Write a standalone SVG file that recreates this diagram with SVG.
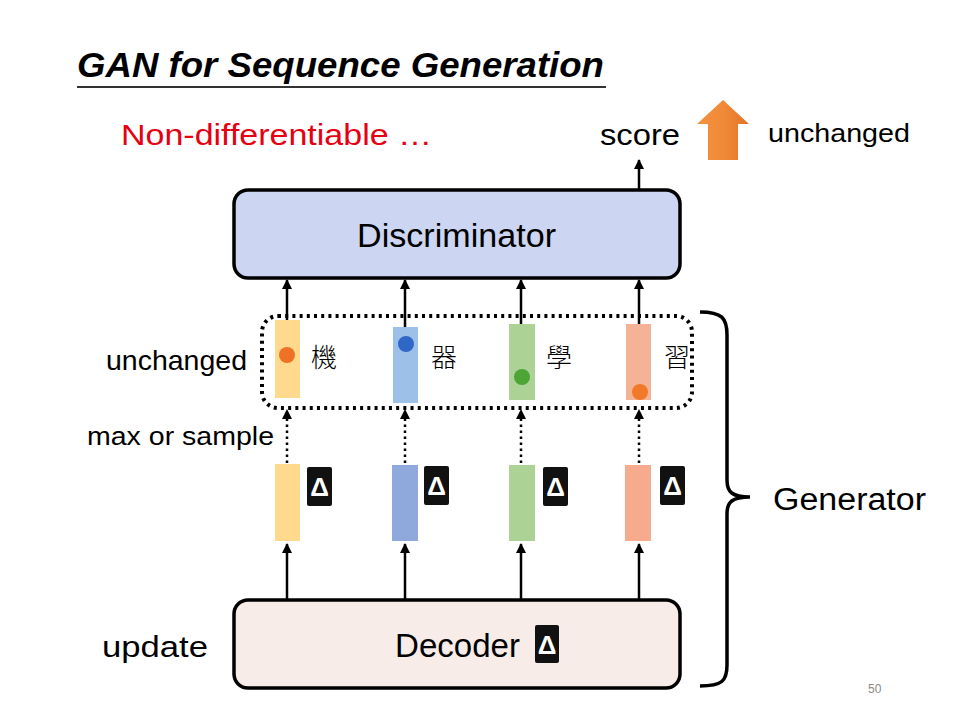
<svg xmlns="http://www.w3.org/2000/svg" width="960" height="720" viewBox="0 0 960 720">
<defs>
<style>
.t{font-family:"Liberation Sans","Noto Sans",sans-serif;fill:#000}
.cjk{font-family:"Noto Sans CJK TC","Noto Sans CJK SC",sans-serif;font-size:26px;font-weight:300;fill:#000}
.box{stroke:#000;stroke-width:3.5}
.arr{stroke:#000;stroke-width:2.5;fill:none;marker-end:url(#ah)}
.darr{stroke:#000;stroke-width:2.5;fill:none;stroke-dasharray:2.5 3.5;marker-end:url(#ah)}
.delta{fill:#111}
.dt{font-family:"Liberation Sans","DejaVu Sans",sans-serif;font-size:26px;font-weight:bold;fill:#fff;text-anchor:middle}
</style>
<marker id="ah" viewBox="0 0 10 10" refX="9" refY="5" markerWidth="4" markerHeight="4" orient="auto" markerUnits="strokeWidth">
<path d="M0,0 L10,5 L0,10 z" fill="#000"/>
</marker>
<linearGradient id="orng" x1="0" y1="0" x2="1" y2="0">
<stop offset="0" stop-color="#F6913F"/><stop offset="0.5" stop-color="#F08A38"/><stop offset="1" stop-color="#E27328"/>
</linearGradient>
</defs>
<rect width="960" height="720" fill="#fff"/>

<g id="title">
<text class="t" x="77" y="77" font-size="35" font-weight="bold" font-style="italic" textLength="527" lengthAdjust="spacingAndGlyphs">GAN for Sequence Generation</text>
<line x1="77" y1="87" x2="606" y2="87" stroke="#333" stroke-width="2"/>
</g>

<g id="nondiff"><text class="t" x="121" y="145" font-size="29" style="fill:#E60012" textLength="311" lengthAdjust="spacingAndGlyphs">Non-differentiable …</text></g>

<g id="score"><text class="t" x="600" y="145" font-size="30" textLength="80" lengthAdjust="spacingAndGlyphs">score</text></g>

<g id="up-arrow"><path d="M723,100 L749,124 L738,124 L738,160 L708,160 L708,124 L697,124 Z" fill="url(#orng)"/></g>
<g id="unchanged-top"><text class="t" x="768" y="142" font-size="26" textLength="142" lengthAdjust="spacingAndGlyphs">unchanged</text></g>

<g id="discriminator">
<rect class="box" x="234" y="190" width="446" height="88" rx="14" fill="#CCD6F2"/>
<text class="t" x="357" y="247" font-size="33" textLength="199" lengthAdjust="spacingAndGlyphs">Discriminator</text>
</g>

<g id="output-set">
<rect x="262" y="316" width="430" height="92" rx="16" fill="none" stroke="#000" stroke-width="4" stroke-dasharray="3 4.2"/>
</g>

<g id="tok1">
<rect x="275" y="320" width="25" height="78" fill="#FFD98E"/>
<circle cx="287" cy="355" r="8" fill="#EE7126"/>
<text class="cjk" x="311" y="367">機</text>
</g>
<g id="tok2">
<rect x="393" y="327" width="25" height="76" fill="#9DC0E8"/>
<circle cx="406" cy="344" r="8" fill="#2F67C9"/>
<text class="cjk" x="431" y="367">器</text>
</g>
<g id="tok3">
<rect x="509" y="324" width="26" height="76" fill="#ACD395"/>
<circle cx="522" cy="377" r="8" fill="#4CA535"/>
<text class="cjk" x="546" y="367">學</text>
</g>
<g id="tok4">
<rect x="626" y="324" width="25" height="76" fill="#F5B396"/>
<circle cx="640" cy="392" r="8" fill="#F07A2A"/>
<text class="cjk" x="664" y="367">習</text>
</g>

<g id="unchanged-left"><text class="t" x="106" y="370" font-size="28" textLength="141" lengthAdjust="spacingAndGlyphs">unchanged</text></g>
<g id="maxsample"><text class="t" x="87" y="445" font-size="26" textLength="187" lengthAdjust="spacingAndGlyphs">max or sample</text></g>

<g id="dist1"><rect x="275" y="464" width="25" height="77" fill="#FFD98E"/><rect class="delta" x="307" y="467" width="25" height="39" rx="2"/><text class="dt" x="319.5" y="496">Δ</text></g>
<g id="dist2"><rect x="392" y="465" width="26" height="76" fill="#8FA9DC"/><rect class="delta" x="424" y="466" width="25" height="39" rx="2"/><text class="dt" x="436.5" y="495">Δ</text></g>
<g id="dist3"><rect x="509" y="465" width="26" height="76" fill="#ACD395"/><rect class="delta" x="543" y="467" width="25" height="39" rx="2"/><text class="dt" x="555.5" y="496">Δ</text></g>
<g id="dist4"><rect x="625" y="465" width="26" height="76" fill="#F5AB8C"/><rect class="delta" x="660" y="466" width="25" height="39" rx="2"/><text class="dt" x="672.5" y="495">Δ</text></g>

<g id="decoder">
<rect class="box" x="234" y="600" width="446" height="88" rx="14" fill="#F7ECE8"/>
<text class="t" x="395" y="657" font-size="33" textLength="125" lengthAdjust="spacingAndGlyphs">Decoder</text>
<rect class="delta" x="535" y="625" width="24" height="38" rx="2"/>
<text class="dt" x="547" y="654">Δ</text>
</g>

<g id="update"><text class="t" x="102" y="657" font-size="30" textLength="106" lengthAdjust="spacingAndGlyphs">update</text></g>

<g id="generator">
<path d="M700,312 C722,312 727,318 727,335 L727,480 C727,492 732,497 750,497 C732,497 727,502 727,514 L727,665 C727,681 722,686 700,686" fill="none" stroke="#000" stroke-width="3.5"/>
<text class="t" x="773" y="510" font-size="31" textLength="153" lengthAdjust="spacingAndGlyphs">Generator</text>
</g>

<g id="page"><text class="t" x="868" y="693" font-size="12" style="fill:#888">50</text></g>

<g id="connectors">
<line class="arr" x1="639" y1="190" x2="639" y2="160"/>
<line class="arr" x1="287" y1="320" x2="287" y2="280"/>
<line class="arr" x1="405" y1="327" x2="405" y2="280"/>
<line class="arr" x1="521" y1="324" x2="521" y2="280"/>
<line class="arr" x1="639" y1="324" x2="639" y2="280"/>
<line class="darr" x1="287" y1="463" x2="287" y2="410"/>
<line class="darr" x1="405" y1="463" x2="405" y2="410"/>
<line class="darr" x1="521" y1="463" x2="521" y2="410"/>
<line class="darr" x1="639" y1="463" x2="639" y2="410"/>
<line class="arr" x1="287" y1="600" x2="287" y2="544"/>
<line class="arr" x1="405" y1="600" x2="405" y2="544"/>
<line class="arr" x1="521" y1="600" x2="521" y2="544"/>
<line class="arr" x1="639" y1="600" x2="639" y2="544"/>
</g>
</svg>
